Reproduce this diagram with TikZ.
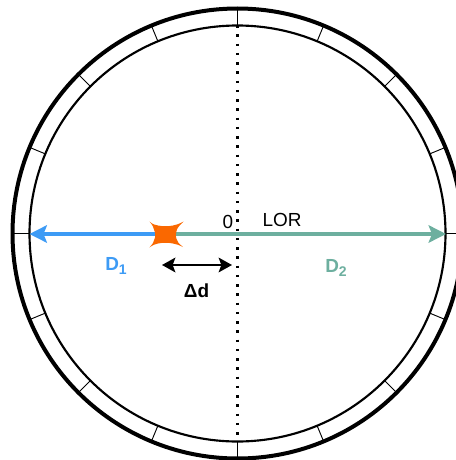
\documentclass[tikz,border=0pt]{standalone}
\usepackage{fontspec}
\setmainfont{Liberation Sans}
\usetikzlibrary{arrows.meta,calc}
\definecolor{blueD}{HTML}{3D9BF5}
\definecolor{greenD}{HTML}{6DAF9F}
\definecolor{burst}{HTML}{FA6800}
\newcommand{\subdig}[1]{\raisebox{-3.6pt}{\fontsize{10.5pt}{12pt}\selectfont #1}}
\tikzset{
  spoke/.style={draw=black,line width=0.7pt},
  txt/.style={inner sep=0pt,font=\fontsize{14.2pt}{16pt}\selectfont},
  btxt/.style={inner sep=0pt,font=\fontsize{14.2pt}{16pt}\selectfont\bfseries},
  ray/.style={line width=3pt,-{Stealth[length=13pt,width=13pt,inset=2.5pt]}},
}
\begin{document}
\begin{tikzpicture}[x=0.75pt,y=-0.75pt]
\useasboundingbox (0,0) rectangle (456,460);
\clip (0,0) rectangle (456,460);
\coordinate (c) at (237.5,233.5);
\foreach \a in {0,22.5,...,337.5}
  \draw[spoke] ($(c)+(\a:208)$) -- ($(c)+(\a:225)$);
\draw[line width=3pt] (c) circle[radius=225];
\draw[line width=1.6pt] (c) circle[radius=208];
\coordinate (top) at (237.5,25);
\coordinate (bot) at (237.5,441);
\draw[line width=1.9pt,dash pattern=on 1.9pt off 5.04pt] (top) -- (bot);
\coordinate (L) at (29.5,234);
\coordinate (R) at (446,234);
\coordinate (S) at (165,234);
\draw[ray,draw=blueD,fill=blueD,blueD] (S) -- (L);
\draw[ray,draw=greenD,fill=greenD,greenD] (S) -- (R);
\fill[burst] (149.5,221.5) .. controls (153,224.5) and (155,225) .. (158,225.5)
  .. controls (163,226.5) and (168,226.5) .. (173,225.5)
  .. controls (176,225) and (179,224) .. (183.5,221.5)
  .. controls (179.5,225.5) and (177,228) .. (176.5,231)
  .. controls (175.5,234) and (175.5,237) .. (176.5,239)
  .. controls (177,242) and (179.5,244) .. (183,247)
  .. controls (179,245) and (176,244) .. (173,243.5)
  .. controls (168,242.5) and (163,242.5) .. (158,243.5)
  .. controls (155,244) and (153,245) .. (149.5,247.5)
  .. controls (152.5,244) and (154,242) .. (154.5,239)
  .. controls (155.5,237) and (155.5,233) .. (154.5,231)
  .. controls (154,228) and (152.5,225) .. (149.5,221.5) -- cycle;
\node[txt] (zero) at (228,222) {0};
\node[txt] (lor) at (282,220) {LOR};
\node[btxt,text=blueD,anchor=base] (d1) at (116,270) {D\subdig{1}};
\node[btxt,text=greenD,anchor=base] (d2) at (336,272) {D\subdig{2}};
\node[btxt] (dd) at (196.5,291) {Δd};
\coordinate (a1) at (162,265);
\coordinate (a2) at (232,265);
\draw[line width=1.5pt,{Stealth[length=10pt,width=11pt,inset=2pt]}-{Stealth[length=10pt,width=11pt,inset=2pt]}] (a1) -- (a2);
\end{tikzpicture}
\end{document}
